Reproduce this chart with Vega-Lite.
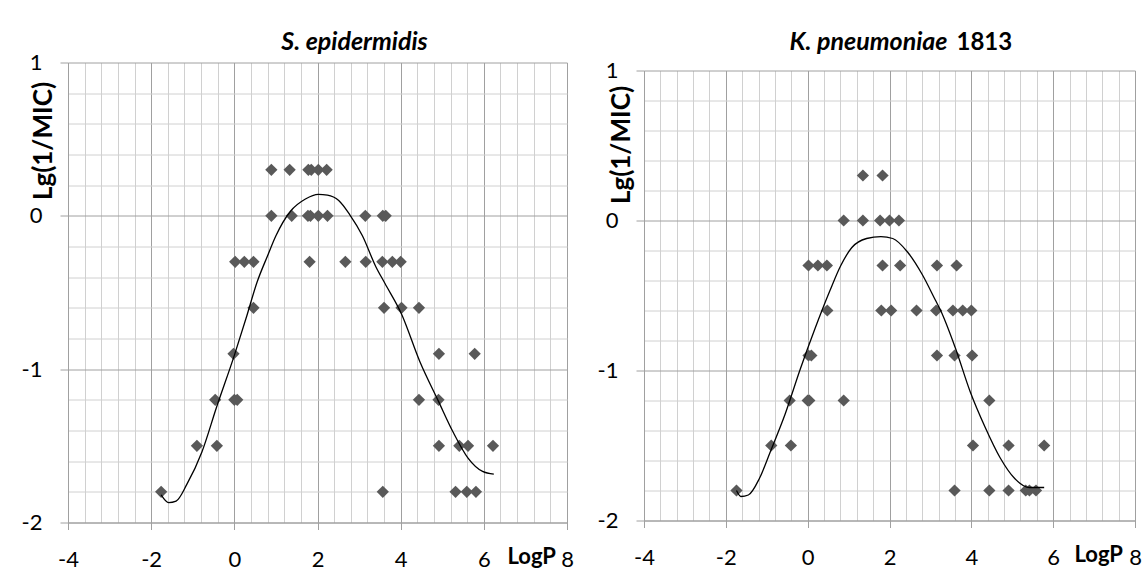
{
  "$schema": "https://vega.github.io/schema/vega-lite/v6.json",
  "padding": {"left": 21, "top": 29.5, "right": 5, "bottom": 5},
  "background": "white",
  "bounds": "flush",
  "spacing": 77,
  "config": {
    "view": {"stroke": null},
    "font": "Lato",
    "axis": {
      "labelFont": "Lato",
      "labelFontSize": 22,
      "labelColor": "black",
      "labelFlush": false,
      "labelOverlap": false,
      "labelBound": false,
      "titleFont": "Lato",
      "titleFontSize": 22,
      "titleFontWeight": "bold",
      "titleColor": "black",
      "domainColor": "#a0a0a0",
      "tickColor": "#a0a0a0",
      "gridWidth": 1,
      "tickCount": 100
    }
  },
  "datasets": {
    "se_points": [
      {"logP": 0.89, "lg1MIC": 0.3}, {"logP": 1.33, "lg1MIC": 0.3}, {"logP": 1.78, "lg1MIC": 0.3}, {"logP": 1.85, "lg1MIC": 0.3}, {"logP": 2.02, "lg1MIC": 0.3}, {"logP": 2.22, "lg1MIC": 0.3},
      {"logP": 0.89, "lg1MIC": 0}, {"logP": 1.38, "lg1MIC": 0}, {"logP": 1.77, "lg1MIC": 0}, {"logP": 1.83, "lg1MIC": 0}, {"logP": 2.02, "lg1MIC": 0}, {"logP": 2.24, "lg1MIC": 0}, {"logP": 3.15, "lg1MIC": 0}, {"logP": 3.57, "lg1MIC": 0}, {"logP": 3.64, "lg1MIC": 0},
      {"logP": 0.02, "lg1MIC": -0.3}, {"logP": 0.24, "lg1MIC": -0.3}, {"logP": 0.46, "lg1MIC": -0.3}, {"logP": 1.81, "lg1MIC": -0.3}, {"logP": 2.67, "lg1MIC": -0.3}, {"logP": 3.16, "lg1MIC": -0.3}, {"logP": 3.56, "lg1MIC": -0.3}, {"logP": 3.80, "lg1MIC": -0.3}, {"logP": 4.00, "lg1MIC": -0.3},
      {"logP": 0.46, "lg1MIC": -0.6}, {"logP": 3.60, "lg1MIC": -0.6}, {"logP": 4.02, "lg1MIC": -0.6}, {"logP": 4.44, "lg1MIC": -0.6},
      {"logP": -0.02, "lg1MIC": -0.9}, {"logP": 4.92, "lg1MIC": -0.9}, {"logP": 5.78, "lg1MIC": -0.9},
      {"logP": -0.46, "lg1MIC": -1.2}, {"logP": 0.00, "lg1MIC": -1.2}, {"logP": 0.07, "lg1MIC": -1.2}, {"logP": 4.44, "lg1MIC": -1.2}, {"logP": 4.91, "lg1MIC": -1.2},
      {"logP": -0.90, "lg1MIC": -1.5}, {"logP": -0.42, "lg1MIC": -1.5}, {"logP": 4.92, "lg1MIC": -1.5}, {"logP": 5.41, "lg1MIC": -1.5}, {"logP": 5.62, "lg1MIC": -1.5}, {"logP": 6.22, "lg1MIC": -1.5},
      {"logP": -1.76, "lg1MIC": -1.8}, {"logP": 3.57, "lg1MIC": -1.8}, {"logP": 5.32, "lg1MIC": -1.8}, {"logP": 5.59, "lg1MIC": -1.8}, {"logP": 5.81, "lg1MIC": -1.8}
    ],
    "se_curve": [
      {"logP": -1.76, "lg1MIC": -1.82}, {"logP": -1.58, "lg1MIC": -1.87}, {"logP": -1.40, "lg1MIC": -1.86}, {"logP": -1.14, "lg1MIC": -1.75},
      {"logP": -0.78, "lg1MIC": -1.54}, {"logP": -0.43, "lg1MIC": -1.25}, {"logP": 0.0, "lg1MIC": -0.91}, {"logP": 0.28, "lg1MIC": -0.67},
      {"logP": 0.55, "lg1MIC": -0.43}, {"logP": 0.80, "lg1MIC": -0.26}, {"logP": 1.0, "lg1MIC": -0.13}, {"logP": 1.35, "lg1MIC": 0.03},
      {"logP": 1.71, "lg1MIC": 0.11}, {"logP": 2.02, "lg1MIC": 0.14}, {"logP": 2.24, "lg1MIC": 0.135}, {"logP": 2.51, "lg1MIC": 0.10},
      {"logP": 2.77, "lg1MIC": 0.01}, {"logP": 3.08, "lg1MIC": -0.13}, {"logP": 3.40, "lg1MIC": -0.33}, {"logP": 3.62, "lg1MIC": -0.44},
      {"logP": 4.02, "lg1MIC": -0.64}, {"logP": 4.46, "lg1MIC": -0.95}, {"logP": 4.91, "lg1MIC": -1.21}, {"logP": 5.26, "lg1MIC": -1.41},
      {"logP": 5.62, "lg1MIC": -1.58}, {"logP": 5.97, "lg1MIC": -1.667}, {"logP": 6.24, "lg1MIC": -1.685}
    ],
    "kp_points": [
      {"logP": 1.35, "lg1MIC": 0.3}, {"logP": 1.83, "lg1MIC": 0.3},
      {"logP": 0.88, "lg1MIC": 0}, {"logP": 1.35, "lg1MIC": 0}, {"logP": 1.77, "lg1MIC": 0}, {"logP": 2.00, "lg1MIC": 0}, {"logP": 2.23, "lg1MIC": 0},
      {"logP": 0.02, "lg1MIC": -0.3}, {"logP": 0.25, "lg1MIC": -0.3}, {"logP": 0.47, "lg1MIC": -0.3}, {"logP": 1.83, "lg1MIC": -0.3}, {"logP": 2.26, "lg1MIC": -0.3}, {"logP": 3.16, "lg1MIC": -0.3}, {"logP": 3.64, "lg1MIC": -0.3},
      {"logP": 0.48, "lg1MIC": -0.6}, {"logP": 1.80, "lg1MIC": -0.6}, {"logP": 2.04, "lg1MIC": -0.6}, {"logP": 2.66, "lg1MIC": -0.6}, {"logP": 3.14, "lg1MIC": -0.6}, {"logP": 3.55, "lg1MIC": -0.6}, {"logP": 3.79, "lg1MIC": -0.6}, {"logP": 4.00, "lg1MIC": -0.6},
      {"logP": 0.02, "lg1MIC": -0.9}, {"logP": 0.09, "lg1MIC": -0.9}, {"logP": 3.16, "lg1MIC": -0.9}, {"logP": 3.59, "lg1MIC": -0.9}, {"logP": 4.02, "lg1MIC": -0.9},
      {"logP": -0.44, "lg1MIC": -1.2}, {"logP": 0.00, "lg1MIC": -1.2}, {"logP": 0.04, "lg1MIC": -1.2}, {"logP": 0.88, "lg1MIC": -1.2}, {"logP": 4.44, "lg1MIC": -1.2},
      {"logP": -0.89, "lg1MIC": -1.5}, {"logP": -0.41, "lg1MIC": -1.5}, {"logP": 4.04, "lg1MIC": -1.5}, {"logP": 4.91, "lg1MIC": -1.5}, {"logP": 5.78, "lg1MIC": -1.5},
      {"logP": -1.74, "lg1MIC": -1.8}, {"logP": 3.59, "lg1MIC": -1.8}, {"logP": 4.44, "lg1MIC": -1.8}, {"logP": 4.91, "lg1MIC": -1.8}, {"logP": 5.33, "lg1MIC": -1.8}, {"logP": 5.42, "lg1MIC": -1.8}, {"logP": 5.58, "lg1MIC": -1.8}
    ],
    "kp_curve": [
      {"logP": -1.74, "lg1MIC": -1.80}, {"logP": -1.63, "lg1MIC": -1.84}, {"logP": -1.45, "lg1MIC": -1.83}, {"logP": -1.18, "lg1MIC": -1.72},
      {"logP": -0.91, "lg1MIC": -1.54}, {"logP": -0.55, "lg1MIC": -1.29}, {"logP": -0.18, "lg1MIC": -0.99}, {"logP": 0.18, "lg1MIC": -0.72},
      {"logP": 0.54, "lg1MIC": -0.47}, {"logP": 0.81, "lg1MIC": -0.30}, {"logP": 1.08, "lg1MIC": -0.18}, {"logP": 1.44, "lg1MIC": -0.12},
      {"logP": 1.79, "lg1MIC": -0.107}, {"logP": 2.08, "lg1MIC": -0.12}, {"logP": 2.44, "lg1MIC": -0.21}, {"logP": 2.80, "lg1MIC": -0.36},
      {"logP": 3.12, "lg1MIC": -0.53}, {"logP": 3.25, "lg1MIC": -0.60}, {"logP": 3.61, "lg1MIC": -0.85}, {"logP": 3.97, "lg1MIC": -1.14},
      {"logP": 4.34, "lg1MIC": -1.38}, {"logP": 4.70, "lg1MIC": -1.58}, {"logP": 5.06, "lg1MIC": -1.72}, {"logP": 5.42, "lg1MIC": -1.78},
      {"logP": 5.78, "lg1MIC": -1.78}
    ]
  },
  "hconcat": [
    {
      "width": 499,
      "height": 460,
      "resolve": {"axis": {"x": "independent"}},
      "layer": [
        {
          "data": {"name": "se_points"},
          "mark": {"type": "point", "shape": "diamond", "filled": true, "size": 150, "color": "#595959", "opacity": 1},
          "encoding": {
            "x": {
              "field": "logP", "type": "quantitative",
              "scale": {"domain": [-4, 8], "nice": false, "zero": false},
              "axis": {
                "orient": "bottom",
                "values": [-4, -3.6, -3.2, -2.8, -2.4, -2, -1.6, -1.2, -0.8, -0.4, 0, 0.4, 0.8, 1.2, 1.6, 2, 2.4, 2.8, 3.2, 3.6, 4, 4.4, 4.8, 5.2, 5.6, 6, 6.4, 6.8, 7.2, 7.6, 8],
                "title": "LogP", "titleX": 439, "titleY": 41, "titleAlign": "left", "titleBaseline": "alphabetic", "titleAngle": 0,
                "labelExpr": "datum.value % 2 === 0 ? toString(datum.value) : ''",
                "labelBaseline": "alphabetic", "labelPadding": 37,
                "grid": true,
                "gridColor": {"condition": {"test": "datum.value % 2 === 0", "value": "#a0a0a0"}, "value": "#d0d0d0"},
                "tickSize": 7,
                "tickOpacity": {"condition": {"test": "datum.value % 2 === 0", "value": 1}, "value": 0}
              }
            },
            "y": {
              "field": "lg1MIC", "type": "quantitative",
              "scale": {"domain": [-2, 1], "nice": false, "zero": false},
              "axis": {
                "values": [-2, -1.8, -1.6, -1.4, -1.2, -1, -0.8, -0.6, -0.4, -0.2, 0, 0.2, 0.4, 0.6, 0.8, 1],
                "title": "Lg(1/MIC)", "titleX": -25, "titleY": 78, "titleAngle": 270, "titleAlign": "center", "titleBaseline": "middle", "titleFontSize": 26,
                "labelExpr": "datum.value % 1 === 0 ? toString(datum.value) : ''",
                "labelPadding": 18,
                "grid": true,
                "gridColor": {"condition": {"test": "datum.value % 1 === 0", "value": "#a0a0a0"}, "value": "#d0d0d0"},
                "tickSize": 8,
                "tickOpacity": {"condition": {"test": "datum.value % 1 === 0", "value": 1}, "value": 0}
              }
            }
          }
        },
        {
          "data": {"name": "se_curve"},
          "mark": {"type": "line", "color": "black", "strokeWidth": 1.3, "interpolate": "monotone"},
          "encoding": {
            "x": {
              "field": "logP", "type": "quantitative",
              "axis": {"orient": "top", "title": "S. epidermidis", "labels": false, "ticks": false, "domain": false, "grid": false, "titleX": 286, "titleY": -12.7, "titleAlign": "center", "titleBaseline": "alphabetic", "titleAngle": 0, "titleFontSize": 25, "titleFontWeight": "bold", "titleFontStyle": "italic"}
            },
            "y": {"field": "lg1MIC", "type": "quantitative"}
          }
        }
      ]
    },
    {
      "bounds": "flush",
      "spacing": 0,
      "vconcat": [
        {"width": 491, "height": 8, "data": {"values": []}, "mark": "point"},
        {
          "width": 491,
          "height": 450,
          "resolve": {"axis": {"x": "independent", "y": "independent"}},
          "layer": [
            {
              "data": {"name": "kp_points"},
              "mark": {"type": "point", "shape": "diamond", "filled": true, "size": 150, "color": "#595959", "opacity": 1},
              "encoding": {
                "x": {
                  "field": "logP", "type": "quantitative",
                  "scale": {"domain": [-4, 8], "nice": false, "zero": false},
                  "axis": {
                    "orient": "bottom",
                    "values": [-4, -3.6, -3.2, -2.8, -2.4, -2, -1.6, -1.2, -0.8, -0.4, 0, 0.4, 0.8, 1.2, 1.6, 2, 2.4, 2.8, 3.2, 3.6, 4, 4.4, 4.8, 5.2, 5.6, 6, 6.4, 6.8, 7.2, 7.6, 8],
                    "title": "LogP", "titleX": 430, "titleY": 41, "titleAlign": "left", "titleBaseline": "alphabetic", "titleAngle": 0,
                    "labelExpr": "datum.value % 2 === 0 ? toString(datum.value) : ''",
                    "labelBaseline": "alphabetic", "labelPadding": 37,
                    "grid": true,
                    "gridColor": {"condition": {"test": "datum.value % 2 === 0", "value": "#a0a0a0"}, "value": "#d0d0d0"},
                    "tickSize": 7,
                    "tickOpacity": {"condition": {"test": "datum.value % 2 === 0", "value": 1}, "value": 0}
                  }
                },
                "y": {
                  "field": "lg1MIC", "type": "quantitative",
                  "scale": {"domain": [-2, 1], "nice": false, "zero": false},
                  "axis": {
                    "orient": "left",
                    "values": [-2, -1.8, -1.6, -1.4, -1.2, -1, -0.8, -0.6, -0.4, -0.2, 0, 0.2, 0.4, 0.6, 0.8, 1],
                    "title": "Lg(1/MIC)", "titleX": -23, "titleY": 74, "titleAngle": 270, "titleAlign": "center", "titleBaseline": "middle", "titleFontSize": 26,
                    "labelExpr": "datum.value % 1 === 0 ? toString(datum.value) : ''",
                    "labelPadding": 18,
                    "grid": true,
                    "gridColor": {"condition": {"test": "datum.value % 1 === 0", "value": "#a0a0a0"}, "value": "#d0d0d0"},
                    "tickSize": 8,
                    "tickOpacity": {"condition": {"test": "datum.value % 1 === 0", "value": 1}, "value": 0}
                  }
                }
              }
            },
            {
              "data": {"name": "kp_curve"},
              "mark": {"type": "line", "color": "black", "strokeWidth": 1.3, "interpolate": "monotone"},
              "encoding": {
                "x": {
                  "field": "logP", "type": "quantitative",
                  "axis": {"orient": "top", "title": "K. pneumoniae", "labels": false, "ticks": false, "domain": false, "grid": false, "titleX": 303, "titleY": -20.7, "titleAlign": "right", "titleBaseline": "alphabetic", "titleAngle": 0, "titleFontSize": 25, "titleFontWeight": "bold", "titleFontStyle": "italic"}
                },
                "y": {
                  "field": "lg1MIC", "type": "quantitative",
                  "axis": {"orient": "right", "title": "1813", "labels": false, "ticks": false, "domain": false, "grid": false, "titleX": -179, "titleY": -20.7, "titleAlign": "left", "titleBaseline": "alphabetic", "titleAngle": 0, "titleFontSize": 24, "titleFontWeight": "bold"}
                }
              }
            }
          ]
        }
      ]
    }
  ]
}
